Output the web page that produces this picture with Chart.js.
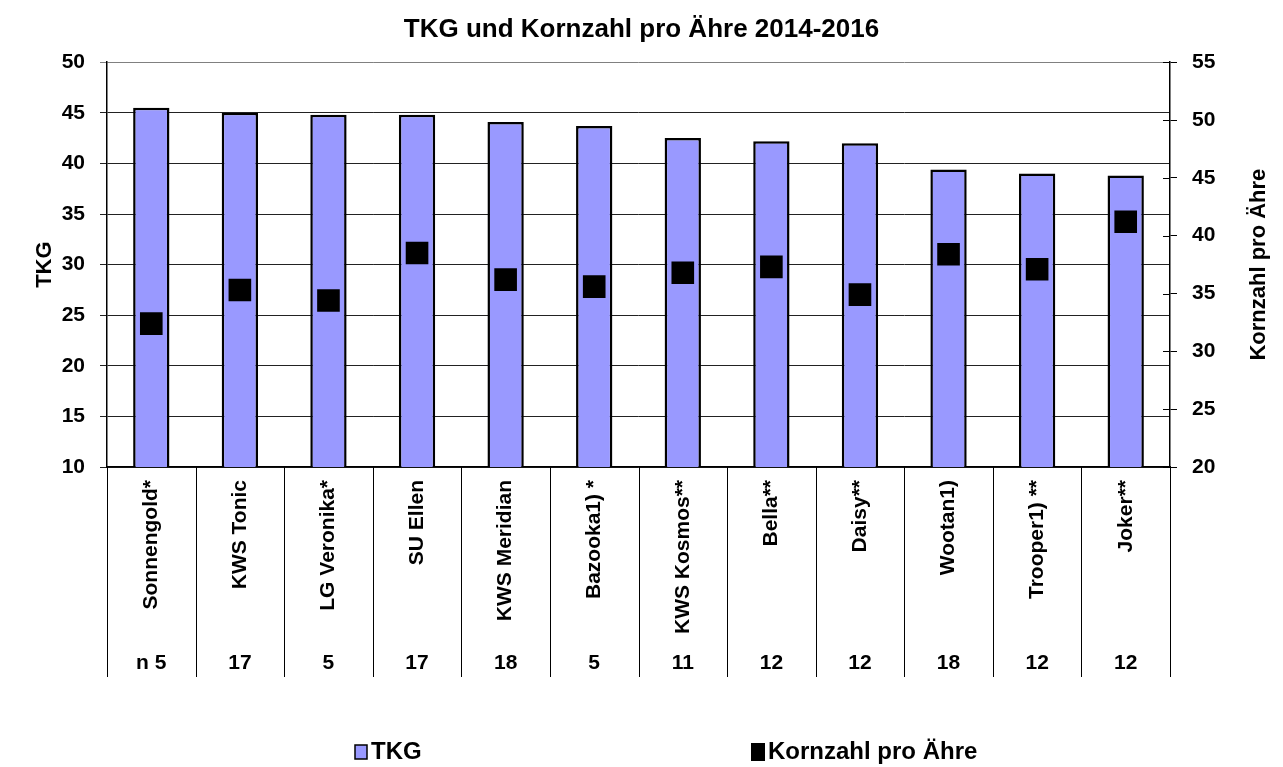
<!DOCTYPE html>
<html>
<head>
<meta charset="utf-8">
<script src="https://cdn.jsdelivr.net/npm/chart.js@4"></script>
<style>
  body { margin: 0; background: #fff; }
  #wrap { width: 1283px; height: 767px; position: relative; }
</style>
</head>
<body>
<div id="wrap"><canvas id="myChart"></canvas></div>
<script>
const categories = ['Sonnengold*', 'KWS Tonic', 'LG Veronika*', 'SU Ellen', 'KWS Meridian', 'Bazooka1) *',
                    'KWS Kosmos**', 'Bella**', 'Daisy**', 'Wootan1)', 'Trooper1) **', 'Joker**']
const nValues = ['n 5', '17', '5', '17', '18', '5', '11', '12', '12', '18', '12', '12']
const tkg = [45.5, 45.0, 44.8, 44.8, 44.1, 43.7, 42.5, 42.2, 42.0, 39.4, 39.0, 38.8]
const kornzahl = [32.4, 35.3, 34.4, 38.5, 36.2, 35.6, 36.8, 37.3, 34.9, 38.4, 37.1, 41.2]

const FONT = 'Liberation Sans, Arial, sans-serif'
Chart.defaults.font.family = FONT
Chart.defaults.color = '#000'

// table under the x axis (separators + n row), right title, legend
const extras = {
    id: 'extras',
    afterDraw(chart) {
        const ctx = chart.ctx
        const x = chart.scales.x
        const y1 = chart.scales.y1
        const area = chart.chartArea
        const step = x.getPixelForValue(1) - x.getPixelForValue(0)
        ctx.save()
        ctx.strokeStyle = '#000'
        ctx.lineWidth = 1
        for (let i = 0; i <= categories.length; i++) {
            const px = Math.round(x.getPixelForValue(i) - step / 2) + 0.5
            ctx.beginPath()
            ctx.moveTo(px, area.bottom)
            ctx.lineTo(px, area.bottom + 210)
            ctx.stroke()
        }
        // inner part of right ticks
        y1.ticks.forEach(t => {
            const py = Math.round(y1.getPixelForValue(t.value)) + 0.5
            ctx.beginPath()
            ctx.moveTo(area.right - 7, py)
            ctx.lineTo(area.right, py)
            ctx.stroke()
        })
        ctx.fillStyle = '#000'
        ctx.font = `bold 21px ${FONT}`
        ctx.textAlign = 'center'
        ctx.textBaseline = 'middle'
        nValues.forEach((n, i) => {
            ctx.fillText(n, x.getPixelForValue(i), area.bottom + 196)
        })
        // right axis title, reading bottom to top
        ctx.save()
        ctx.translate(1259, (area.top + area.bottom) / 2)
        ctx.rotate(-Math.PI / 2)
        ctx.font = `bold 22px ${FONT}`
        ctx.fillText('Kornzahl pro Ähre', 0, 0)
        ctx.restore()
        // legend
        const bars = chart.data.datasets[0]
        const marks = chart.data.datasets[1]
        const ly = 752
        ctx.font = `bold 24px ${FONT}`
        ctx.textAlign = 'left'
        ctx.fillStyle = bars.backgroundColor
        ctx.fillRect(355, ly - 7, 12, 14)
        ctx.lineWidth = 1.5
        ctx.strokeStyle = '#000'
        ctx.strokeRect(355, ly - 7, 12, 14)
        ctx.fillStyle = '#000'
        ctx.fillText(bars.label, 371, ly)
        ctx.fillStyle = marks.backgroundColor
        ctx.fillRect(751, ly - 9, 14, 18)
        ctx.fillStyle = '#000'
        ctx.fillText(marks.label, 768, ly)
        ctx.restore()
    }
}

const ctx = document.getElementById('myChart')
new Chart(ctx, {
    type: 'bar',
    data: {
        labels: categories,
        datasets: [{
            label: 'TKG',
            data: tkg,
            yAxisID: 'y',
            backgroundColor: '#9999FF',
            borderColor: '#000000',
            borderWidth: 2.5,
            categoryPercentage: 1,
            barPercentage: 0.41,
            order: 1
        }, {
            type: 'line',
            label: 'Kornzahl pro Ähre',
            data: kornzahl,
            yAxisID: 'y1',
            showLine: false,
            pointStyle: 'rect',
            pointRadius: 16,
            pointHoverRadius: 16,
            pointBorderWidth: 0,
            backgroundColor: '#000000',
            borderColor: '#000000',
            order: 0
        }]
    },
    options: {
        responsive: true,
        maintainAspectRatio: false,
        animation: false,
        layout: { padding: { left: 0, right: 0, top: 0, bottom: 90 } },
        plugins: {
            legend: { display: false },
            tooltip: { enabled: false },
            title: {
                display: true,
                text: 'TKG und Kornzahl pro Ähre 2014-2016',
                font: { size: 26, weight: 'bold' },
                color: '#000',
                padding: { top: 14, bottom: 17 }
            }
        },
        scales: {
            x: {
                grid: { display: false, drawTicks: false },
                border: { display: true, color: '#000', width: 1.5 },
                ticks: {
                    autoSkip: false,
                    minRotation: 90,
                    maxRotation: 90,
                    padding: 13,
                    font: { size: 21, weight: 'bold' },
                    color: '#000'
                },
                afterFit(scale) { scale.height = 210 }
            },
            y: {
                position: 'left',
                min: 10,
                max: 50,
                ticks: { stepSize: 5, padding: 15, font: { size: 21, weight: 'bold' }, color: '#000' },
                grid: {
                    color: c => (c.tick && c.tick.value === 50 ? '#808080' : '#222'),
                    lineWidth: 1,
                    tickLength: 7
                },
                border: { display: true, color: '#000', width: 1.5 },
                title: {
                    display: true,
                    text: 'TKG',
                    font: { size: 22, weight: 'bold' },
                    color: '#000',
                    padding: { top: 32, bottom: 0 }
                },
                afterFit(scale) { scale.width = 107 }
            },
            y1: {
                position: 'right',
                min: 20,
                max: 55,
                ticks: { stepSize: 5, padding: 15, font: { size: 21, weight: 'bold' }, color: '#000' },
                grid: { drawOnChartArea: false, color: '#000', tickLength: 7 },
                border: { display: true, color: '#000', width: 1.5 },
                afterFit(scale) { scale.width = 113 }
            }
        }
    },
    plugins: [extras]
})
</script>
</body>
</html>
